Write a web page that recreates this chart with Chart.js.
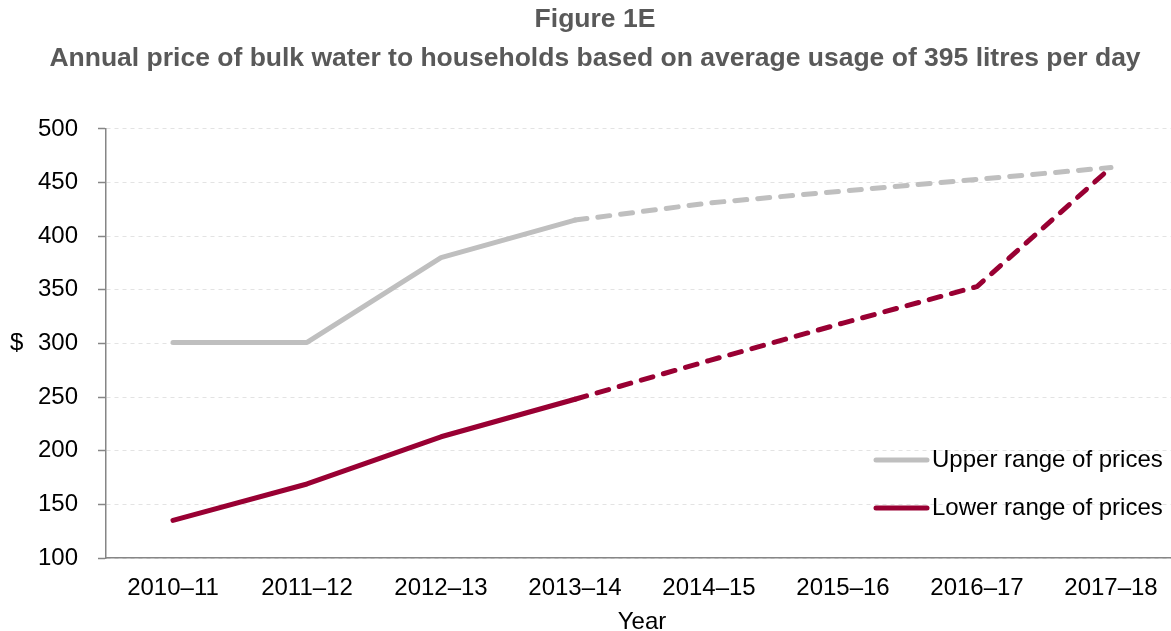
<!DOCTYPE html>
<html>
<head>
<meta charset="utf-8">
<script src="https://cdn.jsdelivr.net/npm/chart.js@4"></script>
<style>
    html, body { margin: 0; padding: 0; background: #fff; overflow: hidden; }
    #wrap { width: 1180px; height: 631px; }
</style>
</head>
<body>
<div id="wrap"><canvas id="chart" width="1180" height="631"></canvas></div>
<script>
// 数据
const years = ['2010–11', '2011–12', '2012–13', '2013–14', '2014–15', '2015–16', '2016–17', '2017–18'];
const upperPrices = [301, 301, 380, 415, 431, 442, 453, 464];
const lowerPrices = [135, 169, 213, 248, 284, 319, 353, 464];
const yTicks = [100, 150, 200, 250, 300, 350, 400, 450, 500];
const firstProjected = 3; // dashed from 2013–14 on

const GREY = '#bfbfbf';
const MAROON = '#990033';
const FONT = 'Liberation Sans, Arial, sans-serif';

const dashAfter = ctx => ctx.p0DataIndex >= firstProjected ? [12, 11] : undefined;

// legend + "$" label drawn on canvas
const extras = {
    id: 'extras',
    afterDraw(chart) {
        const { ctx, scales } = chart;
        ctx.save();
        ctx.font = '24px ' + FONT;
        ctx.fillStyle = '#000';
        ctx.textBaseline = 'middle';
        ctx.textAlign = 'left';
        ctx.fillText('$', 10, scales.y.getPixelForValue(300));

        const items = [
            { text: 'Upper range of prices', color: GREY, y: 460 },
            { text: 'Lower range of prices', color: MAROON, y: 508 }
        ];
        items.forEach(it => {
            ctx.strokeStyle = it.color;
            ctx.lineWidth = 5;
            ctx.lineCap = 'round';
            ctx.beginPath();
            ctx.moveTo(876, it.y);
            ctx.lineTo(927, it.y);
            ctx.stroke();
            ctx.fillText(it.text, 932, it.y);
        });
        ctx.restore();
    }
};

new Chart(document.getElementById('chart'), {
    type: 'line',
    data: {
        labels: years,
        datasets: [{
            label: 'Upper range of prices',
            data: upperPrices,
            borderColor: GREY,
            borderWidth: 5,
            borderCapStyle: 'round',
            borderJoinStyle: 'round',
            pointRadius: 0,
            tension: 0,
            segment: { borderDash: dashAfter }
        }, {
            label: 'Lower range of prices',
            data: lowerPrices,
            borderColor: MAROON,
            borderWidth: 5,
            borderCapStyle: 'round',
            borderJoinStyle: 'round',
            pointRadius: 0,
            tension: 0,
            segment: { borderDash: dashAfter }
        }]
    },
    options: {
        responsive: false,
        animation: false,
        layout: { padding: { left: 12, right: 2, top: 0, bottom: 0 } },
        plugins: {
            legend: { display: false },
            tooltip: { enabled: false },
            title: {
                display: true,
                text: ['Figure 1E', 'Annual price of bulk water to households based on average usage of 395 litres per day'],
                color: '#595959',
                font: { family: FONT, size: 26.5, weight: 'bold', lineHeight: 1.47 },
                padding: { top: 0, bottom: 51 }
            }
        },
        scales: {
            x: {
                offset: true,
                grid: { display: false, drawTicks: false },
                border: { color: '#868686', width: 1.5 },
                ticks: { color: '#000', font: { family: FONT, size: 24 }, padding: 16, maxRotation: 0 },
                title: { display: true, text: 'Year', color: '#000', font: { family: FONT, size: 24, lineHeight: 1 }, padding: { top: 0, bottom: -3 } },
                afterFit: s => { s.height = 73; }
            },
            y: {
                min: 100,
                max: 500,
                afterBuildTicks: s => { s.ticks = yTicks.map(v => ({ value: v })); },
                grid: { color: '#e3e3e3', lineWidth: 1, tickColor: '#868686', tickLength: 8, tickWidth: 1.5, tickBorderDash: [] },
                border: { color: '#868686', width: 1.5, dash: [4, 4] },
                ticks: { color: '#000', font: { family: FONT, size: 24 }, padding: 20 },
                afterFit: s => { s.width = 94; }
            }
        }
    },
    plugins: [extras]
});
</script>
</body>
</html>
